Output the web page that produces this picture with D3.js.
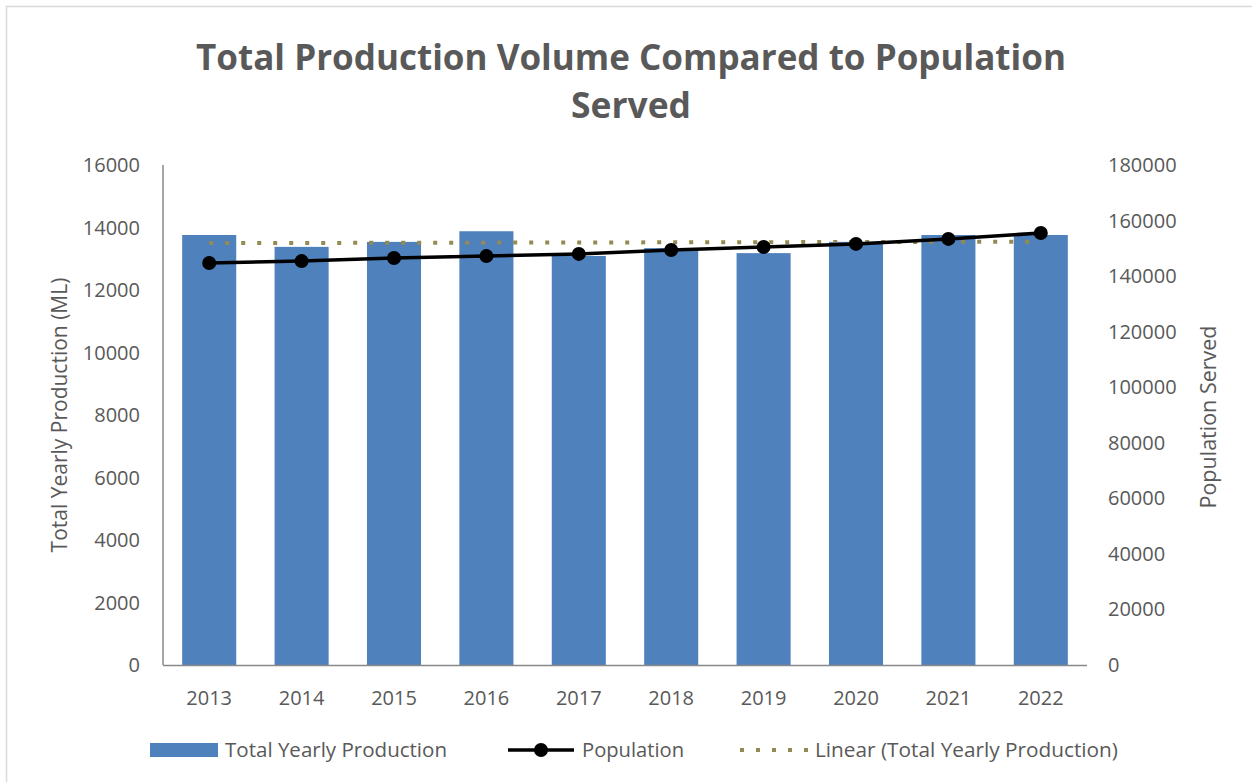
<!DOCTYPE html>
<html>
<head>
<meta charset="utf-8">
<script src="https://cdn.jsdelivr.net/npm/d3@7"></script>
<style>
  body { margin: 0; background: #fff; }
  text { font-family: "Open Sans", "Noto Sans", sans-serif; fill: #595959; }
</style>
</head>
<body>
<div id="chart"></div>
<script>
// Data
const years = ["2013", "2014", "2015", "2016", "2017", "2018", "2019", "2020", "2021", "2022"];
const production = [13760, 13380, 13540, 13880, 13090, 13340, 13180, 13540, 13760, 13760];
const population = [144700, 145400, 146500, 147200, 148000, 149400, 150500, 151600, 153400, 155500];
const leftTicks = [0, 2000, 4000, 6000, 8000, 10000, 12000, 14000, 16000];
const rightTicks = [0, 20000, 40000, 60000, 80000, 100000, 120000, 140000, 160000, 180000];

const W = 1252, H = 782;
const plot = {left: 163, right: 1087, top: 165, bottom: 665};

const svg = d3.select("#chart").append("svg")
    .attr("width", W).attr("height", H);

// chart frame
svg.append("rect")
    .attr("x", 6.5).attr("y", 6.5)
    .attr("width", W + 20).attr("height", H + 20)
    .attr("fill", "none").attr("stroke", "#d9d9d9").attr("stroke-width", 1.5);

// title
const title = svg.append("text")
    .attr("text-anchor", "middle")
    .style("font-size", "35px").style("font-weight", "bold");
title.append("tspan").attr("x", 631).attr("y", 70)
    .attr("textLength", 870).attr("lengthAdjust", "spacingAndGlyphs")
    .text("Total Production Volume Compared to Population");
title.append("tspan").attr("x", 631).attr("y", 118)
    .attr("textLength", 120).attr("lengthAdjust", "spacingAndGlyphs")
    .text("Served");

const x = d3.scaleBand().domain(years)
    .range([plot.left, plot.right]).paddingInner(0.415).paddingOuter(0.2075);
const yL = d3.scaleLinear().domain([0, 16000]).range([plot.bottom, plot.top]);
const yR = d3.scaleLinear().domain([0, 180000]).range([plot.bottom, plot.top]);

// bars
svg.append("g").selectAll("rect")
    .data(production)
    .enter().append("rect")
    .attr("x", (d, i) => x(years[i]))
    .attr("y", d => yL(d))
    .attr("width", x.bandwidth())
    .attr("height", d => yL(0) - yL(d))
    .attr("fill", "#4f81bd");

// axes lines
svg.append("line")
    .attr("x1", plot.left).attr("x2", plot.left)
    .attr("y1", plot.top).attr("y2", plot.bottom)
    .attr("stroke", "#898989").attr("stroke-width", 1.5);
svg.append("line")
    .attr("x1", plot.left).attr("x2", plot.right)
    .attr("y1", plot.bottom + 0.5).attr("y2", plot.bottom + 0.5)
    .attr("stroke", "#898989").attr("stroke-width", 1.5);

// left tick labels
svg.append("g").selectAll("text")
    .data(leftTicks)
    .enter().append("text")
    .attr("x", 140).attr("y", d => yL(d))
    .attr("dy", "0.35em").attr("text-anchor", "end")
    .style("font-size", "20px")
    .text(d => d);

// right tick labels
svg.append("g").selectAll("text")
    .data(rightTicks)
    .enter().append("text")
    .attr("x", 1108).attr("y", d => yR(d))
    .attr("dy", "0.35em").attr("text-anchor", "start")
    .style("font-size", "20px")
    .text(d => d);

// category labels
svg.append("g").selectAll("text")
    .data(years)
    .enter().append("text")
    .attr("x", d => x(d) + x.bandwidth() / 2).attr("y", 698)
    .attr("dy", "0.35em").attr("text-anchor", "middle")
    .style("font-size", "20px")
    .text(d => d);

// axis titles
svg.append("text")
    .attr("transform", "translate(60," + (plot.top + plot.bottom) / 2 + ") rotate(-90)")
    .attr("text-anchor", "middle").attr("dy", "0.35em")
    .style("font-size", "21px")
    .text("Total Yearly Production (ML)");
svg.append("text")
    .attr("transform", "translate(1208," + ((plot.top + plot.bottom) / 2 + 2) + ") rotate(-90)")
    .attr("text-anchor", "middle").attr("dy", "0.35em")
    .style("font-size", "21.5px")
    .text("Population Served");

// linear trend of production (least squares fit of the bar values)
const idx = d3.range(production.length);
const mx = d3.mean(idx), my = d3.mean(production);
const slope = d3.sum(idx, i => (i - mx) * (production[i] - my)) / d3.sum(idx, i => (i - mx) * (i - mx));
const trend = idx.map(i => my + slope * (i - mx));
const cx = (d, i) => x(years[i]) + x.bandwidth() / 2;

svg.append("path")
    .datum(trend)
    .attr("d", d3.line().x(cx).y(d => yL(d)))
    .attr("fill", "none").attr("stroke", "#948a54")
    .attr("stroke-width", 4).attr("stroke-dasharray", "4 12");

// population line
svg.append("path")
    .datum(population)
    .attr("d", d3.line().x(cx).y(d => yR(d)))
    .attr("fill", "none").attr("stroke", "#000")
    .attr("stroke-width", 3.5);
svg.append("g").selectAll("circle")
    .data(population)
    .enter().append("circle")
    .attr("cx", cx).attr("cy", d => yR(d))
    .attr("r", 7).attr("fill", "#000");

// legend
const lg = svg.append("g").attr("transform", "translate(0,750)");
lg.append("rect").attr("x", 150).attr("y", -7).attr("width", 68).attr("height", 14).attr("fill", "#4f81bd");
lg.append("text").attr("x", 225).attr("dy", "0.35em").style("font-size", "20px")
    .attr("textLength", 222).attr("lengthAdjust", "spacingAndGlyphs").text("Total Yearly Production");
lg.append("line").attr("x1", 508).attr("x2", 574).attr("y1", 0).attr("y2", 0)
    .attr("stroke", "#000").attr("stroke-width", 3.5);
lg.append("circle").attr("cx", 541).attr("cy", 0).attr("r", 7).attr("fill", "#000");
lg.append("text").attr("x", 582).attr("dy", "0.35em").style("font-size", "20px")
    .attr("textLength", 102).attr("lengthAdjust", "spacingAndGlyphs").text("Population");
lg.append("line").attr("x1", 740).attr("x2", 808).attr("y1", 0).attr("y2", 0)
    .attr("stroke", "#948a54").attr("stroke-width", 4).attr("stroke-dasharray", "4 12");
lg.append("text").attr("x", 815).attr("dy", "0.35em").style("font-size", "20px")
    .attr("textLength", 303).attr("lengthAdjust", "spacingAndGlyphs").text("Linear (Total Yearly Production)");
</script>
</body>
</html>
